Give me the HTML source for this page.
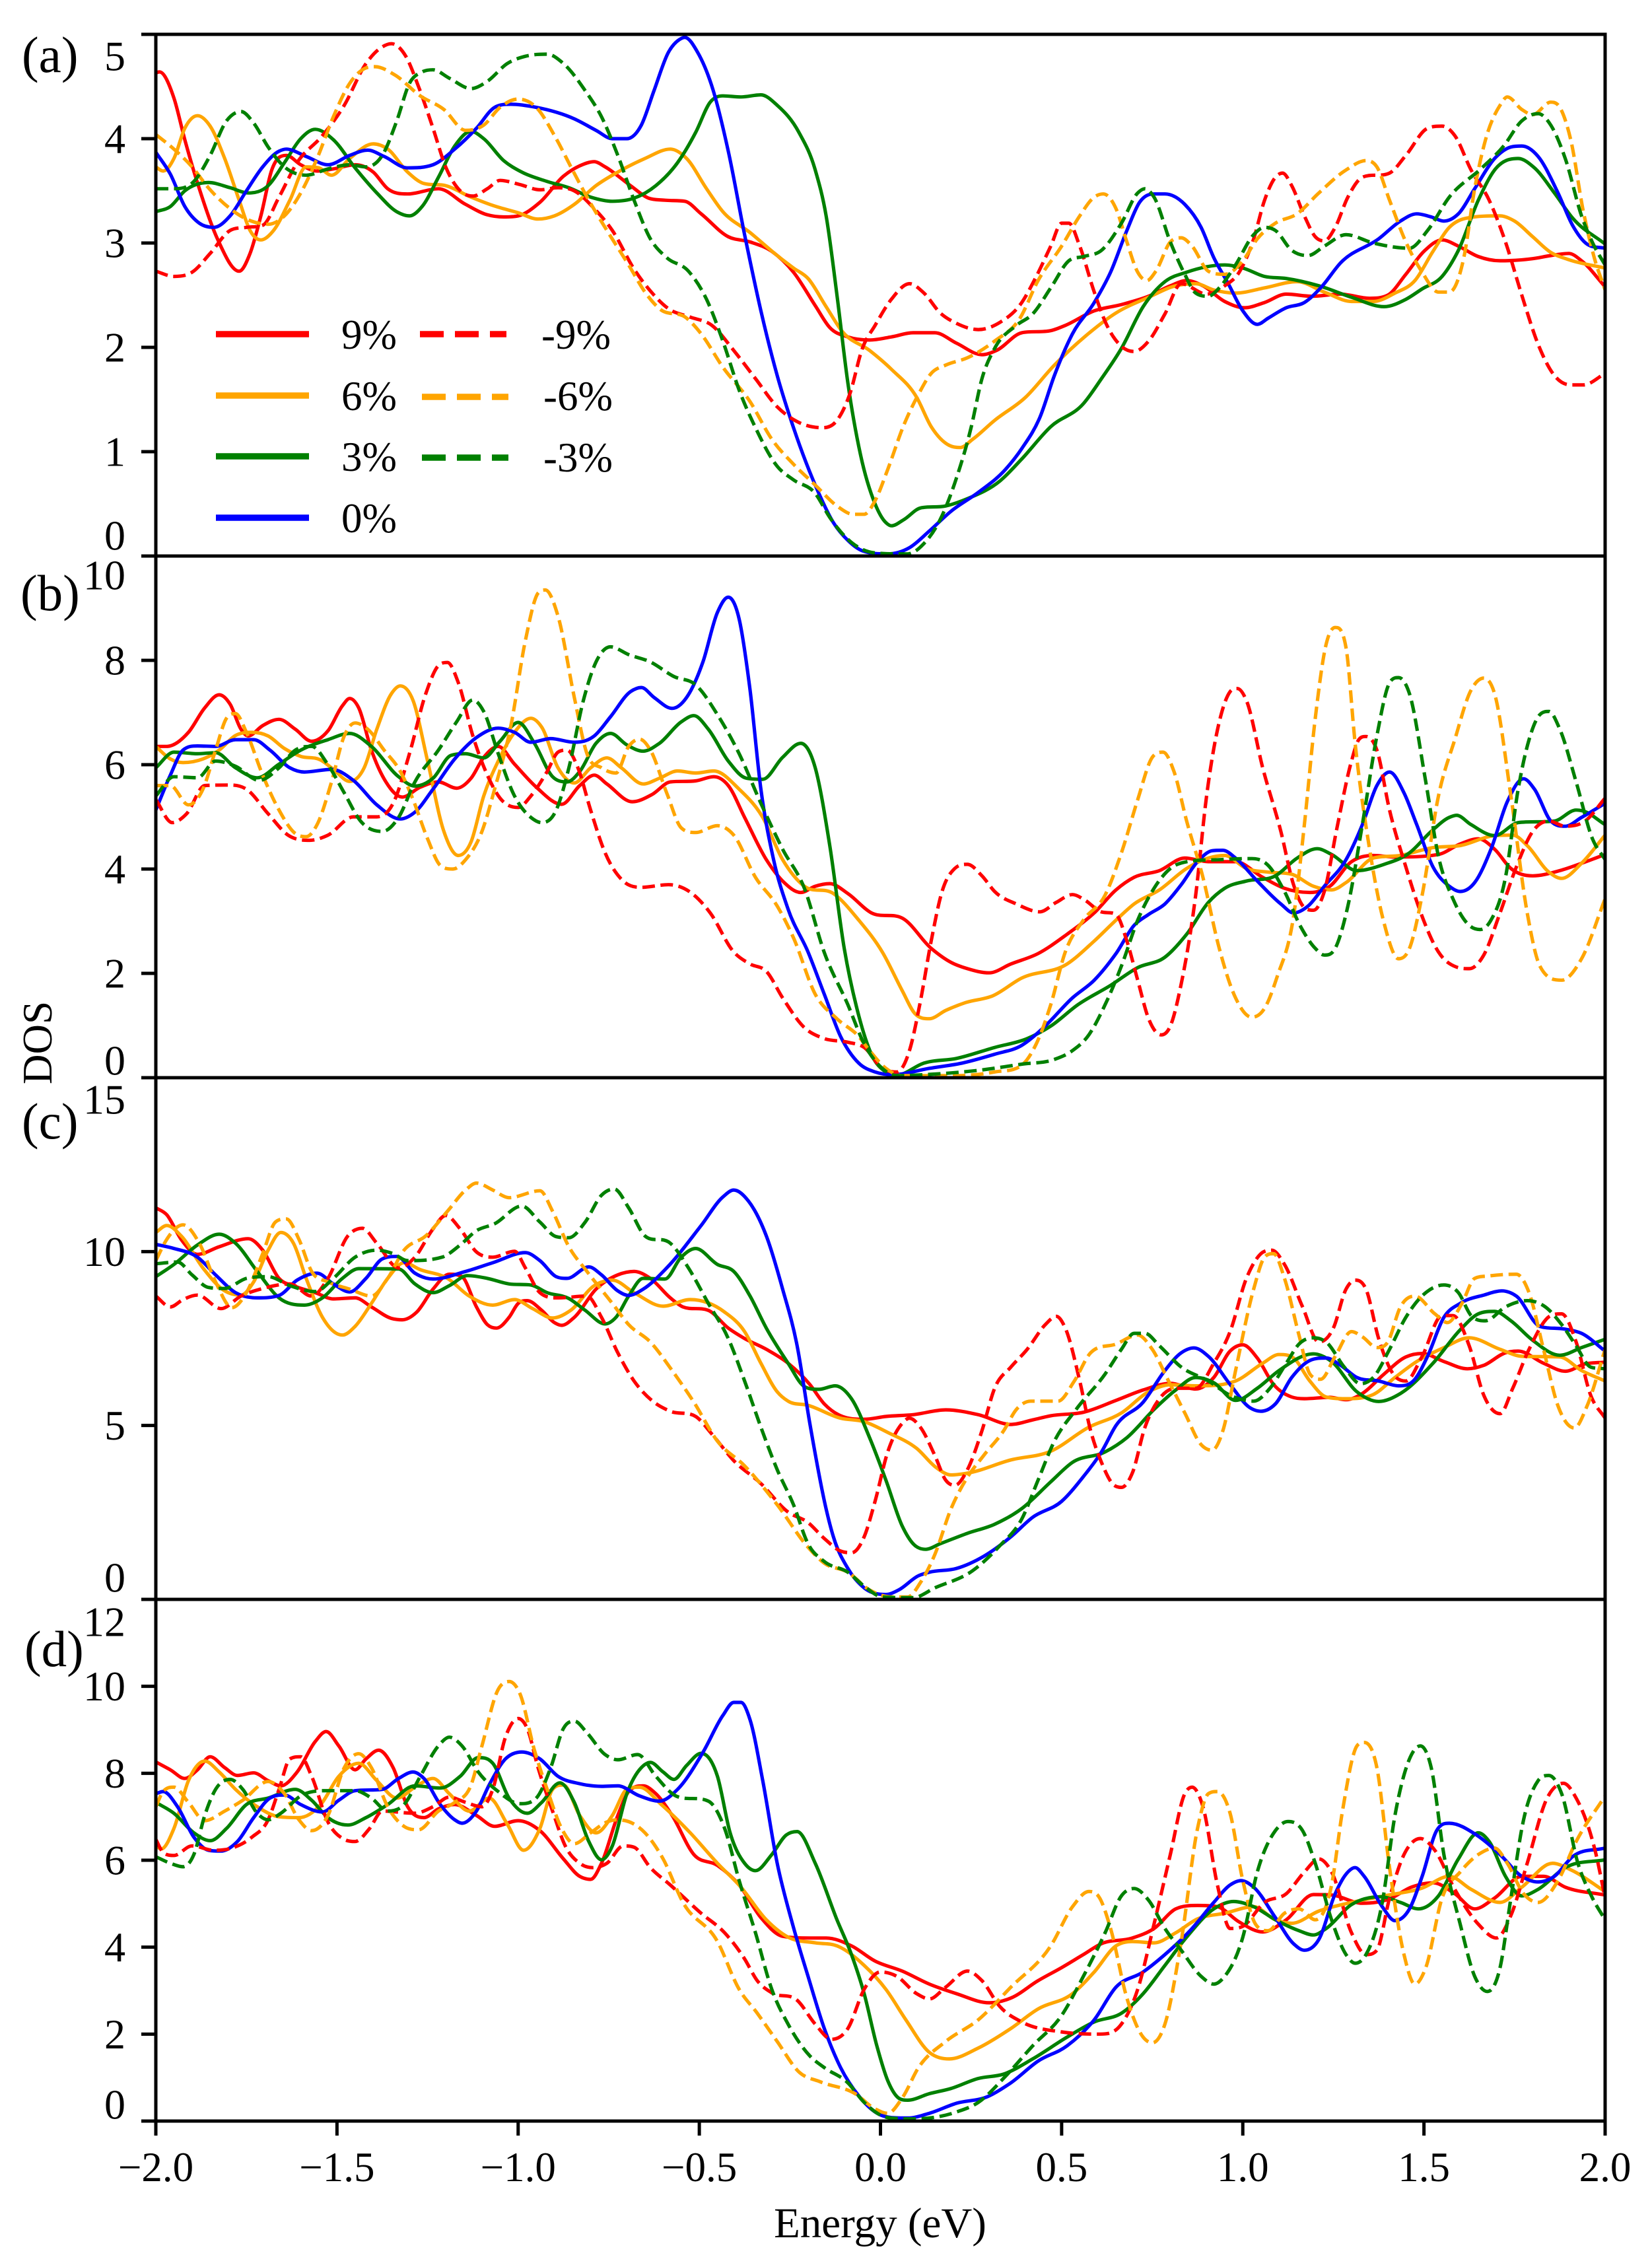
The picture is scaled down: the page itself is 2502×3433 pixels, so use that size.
<!DOCTYPE html>
<html lang="en">
<head>
<meta charset="utf-8">
<title>DOS vs Energy</title>
<style>
html,body{margin:0;padding:0;background:#fff;}
svg{display:block;}
text{font-family:"Liberation Serif",serif;fill:#000;}
</style>
</head>
<body>
<svg id="chart" xmlns="http://www.w3.org/2000/svg" width="2502" height="3433" viewBox="0 0 2502 3433">
<rect x="0" y="0" width="2502" height="3433" fill="#fff"/>
<g id="plot-layer"></g>
<g id="axis-layer"></g>
<text x="33" y="109" font-size="77">(a)</text>
<text x="31" y="924" font-size="77">(b)</text>
<text x="33" y="1724" font-size="77">(c)</text>
<text x="37" y="2523" font-size="77">(d)</text>
<text transform="translate(78,1579) rotate(-90)" text-anchor="middle" font-size="63">DOS</text>
<text x="1333" y="3388" text-anchor="middle" font-size="65">Energy (eV)</text>
<g>
<line x1="327" x2="468" y1="506" y2="506" stroke="#ff0000" stroke-width="9.5"/>
<text x="517" y="528" font-size="63">9%</text>
<line x1="327" x2="468" y1="599" y2="599" stroke="#ffa500" stroke-width="9.5"/>
<text x="517" y="621" font-size="63">6%</text>
<line x1="327" x2="468" y1="691" y2="691" stroke="#008000" stroke-width="9.5"/>
<text x="517" y="713" font-size="63">3%</text>
<line x1="327" x2="468" y1="784" y2="784" stroke="#0000ff" stroke-width="9.5"/>
<text x="517" y="806" font-size="63">0%</text>
<line x1="636" x2="767" y1="506" y2="506" stroke="#ff0000" stroke-width="9.5" stroke-dasharray="36 17"/>
<text x="820" y="528" font-size="63">-9%</text>
<line x1="639" x2="770" y1="601" y2="601" stroke="#ffa500" stroke-width="9.5" stroke-dasharray="36 17"/>
<text x="823" y="621" font-size="63">-6%</text>
<line x1="639" x2="770" y1="693" y2="693" stroke="#008000" stroke-width="9.5" stroke-dasharray="36 17"/>
<text x="823" y="714" font-size="63">-3%</text>
</g>
</svg>
<script>
const xTicks=[-2,-1.5,-1,-0.5,0,0.5,1,1.5,2];
const xTickLabels=["\u22122.0","\u22121.5","\u22121.0","\u22120.5","0.0","0.5","1.0","1.5","2.0"];
const yTicksA=[0,1,2,3,4,5];
const yTicksB=[0,2,4,6,8,10];
const yTicksC=[0,5,10,15];
const yTicksD=[0,2,4,6,8,10,12];

// Panel (a): [energy, DOS]
const a_p9=[[-2,4.63],[-1.99,4.64],[-1.95,4.39],[-1.92,3.99],[-1.88,3.52],[-1.83,3.04],[-1.77,2.73],[-1.74,2.9],[-1.71,3.26],[-1.68,3.7],[-1.64,3.84],[-1.6,3.75],[-1.555,3.69],[-1.51,3.71],[-1.45,3.75],[-1.4,3.68],[-1.36,3.52],[-1.305,3.47],[-1.22,3.52],[-1.145,3.37],[-1.085,3.27],[-1.04,3.25],[-1,3.26],[-0.94,3.39],[-0.875,3.64],[-0.83,3.74],[-0.79,3.78],[-0.76,3.73],[-0.69,3.55],[-0.64,3.43],[-0.595,3.41],[-0.54,3.4],[-0.495,3.28],[-0.42,3.06],[-0.36,3.01],[-0.3,2.92],[-0.24,2.72],[-0.18,2.4],[-0.14,2.19],[-0.09,2.1],[-0.03,2.07],[0.03,2.1],[0.09,2.14],[0.15,2.14],[0.21,2.04],[0.28,1.93],[0.32,1.97],[0.39,2.14],[0.47,2.16],[0.51,2.21],[0.59,2.35],[0.665,2.41],[0.74,2.49],[0.8,2.59],[0.845,2.64],[0.89,2.59],[0.95,2.44],[1.005,2.38],[1.06,2.43],[1.12,2.51],[1.19,2.49],[1.27,2.51],[1.35,2.47],[1.4,2.5],[1.45,2.7],[1.5,2.92],[1.55,3.03],[1.595,2.97],[1.65,2.87],[1.71,2.83],[1.8,2.85],[1.85,2.88],[1.9,2.9],[1.935,2.83],[2,2.58]];
const a_p6=[[-2,3.73],[-1.98,3.69],[-1.95,3.81],[-1.92,4.1],[-1.885,4.22],[-1.85,4.12],[-1.81,3.81],[-1.77,3.41],[-1.74,3.12],[-1.71,3.03],[-1.675,3.12],[-1.63,3.41],[-1.585,3.73],[-1.55,3.72],[-1.515,3.65],[-1.465,3.81],[-1.4,3.95],[-1.36,3.9],[-1.305,3.68],[-1.26,3.57],[-1.2,3.55],[-1.13,3.44],[-1.07,3.36],[-1,3.29],[-0.945,3.23],[-0.9,3.26],[-0.845,3.37],[-0.785,3.55],[-0.725,3.68],[-0.65,3.81],[-0.58,3.9],[-0.535,3.81],[-0.48,3.52],[-0.435,3.3],[-0.36,3.1],[-0.285,2.88],[-0.24,2.76],[-0.2,2.66],[-0.15,2.39],[-0.105,2.15],[-0.03,1.97],[0.03,1.79],[0.1,1.52],[0.14,1.24],[0.19,1.06],[0.22,1.04],[0.255,1.12],[0.315,1.3],[0.4,1.52],[0.48,1.83],[0.57,2.12],[0.65,2.33],[0.74,2.48],[0.815,2.59],[0.87,2.61],[0.92,2.55],[0.98,2.52],[1.06,2.57],[1.15,2.63],[1.225,2.53],[1.3,2.44],[1.36,2.44],[1.42,2.52],[1.475,2.64],[1.525,2.92],[1.57,3.15],[1.62,3.24],[1.71,3.26],[1.75,3.21],[1.8,3.06],[1.85,2.91],[1.9,2.84],[2,2.76]];
const a_p3=[[-2,3.3],[-1.96,3.35],[-1.92,3.5],[-1.855,3.58],[-1.795,3.53],[-1.745,3.48],[-1.69,3.55],[-1.645,3.77],[-1.6,4],[-1.56,4.09],[-1.51,3.99],[-1.45,3.72],[-1.39,3.48],[-1.335,3.3],[-1.3,3.26],[-1.265,3.35],[-1.22,3.63],[-1.175,3.93],[-1.13,4.07],[-1.095,4],[-1.04,3.79],[-0.99,3.68],[-0.92,3.59],[-0.86,3.53],[-0.8,3.44],[-0.74,3.4],[-0.68,3.43],[-0.62,3.55],[-0.56,3.77],[-0.51,4.06],[-0.47,4.35],[-0.435,4.41],[-0.385,4.4],[-0.33,4.42],[-0.285,4.32],[-0.225,4.06],[-0.18,3.7],[-0.15,3.26],[-0.12,2.5],[-0.09,1.66],[-0.055,0.97],[-0.015,0.5],[0.015,0.32],[0.03,0.29],[0.065,0.35],[0.11,0.46],[0.18,0.48],[0.24,0.55],[0.33,0.72],[0.39,0.93],[0.47,1.24],[0.56,1.46],[0.61,1.7],[0.665,1.99],[0.725,2.39],[0.785,2.63],[0.845,2.72],[0.95,2.79],[1,2.76],[1.06,2.68],[1.12,2.66],[1.21,2.59],[1.3,2.48],[1.39,2.39],[1.45,2.46],[1.495,2.56],[1.55,2.68],[1.595,2.93],[1.65,3.41],[1.695,3.7],[1.76,3.81],[1.805,3.72],[1.86,3.48],[1.91,3.24],[2,2.99]];
const a_p0=[[-2,3.87],[-1.96,3.66],[-1.92,3.35],[-1.88,3.19],[-1.84,3.15],[-1.795,3.26],[-1.75,3.5],[-1.705,3.73],[-1.66,3.88],[-1.64,3.9],[-1.585,3.83],[-1.525,3.75],[-1.465,3.84],[-1.415,3.89],[-1.37,3.83],[-1.305,3.72],[-1.235,3.75],[-1.175,3.9],[-1.115,4.1],[-1.065,4.3],[-1.02,4.33],[-0.95,4.3],[-0.845,4.19],[-0.785,4.08],[-0.74,4],[-0.7,4],[-0.66,4.13],[-0.625,4.46],[-0.585,4.83],[-0.555,4.95],[-0.54,4.97],[-0.505,4.83],[-0.465,4.5],[-0.42,3.88],[-0.375,3.08],[-0.33,2.35],[-0.285,1.73],[-0.24,1.23],[-0.17,0.6],[-0.13,0.32],[-0.09,0.15],[-0.05,0.05],[0.02,0.02],[0.08,0.08],[0.135,0.24],[0.195,0.43],[0.27,0.61],[0.345,0.83],[0.39,1.03],[0.44,1.33],[0.48,1.73],[0.53,2.13],[0.59,2.43],[0.635,2.72],[0.68,3.12],[0.715,3.39],[0.755,3.47],[0.785,3.47],[0.84,3.37],[0.885,3.15],[0.92,2.86],[0.96,2.61],[1,2.35],[1.04,2.22],[1.07,2.28],[1.12,2.38],[1.17,2.43],[1.215,2.57],[1.27,2.81],[1.375,3.04],[1.435,3.21],[1.48,3.28],[1.52,3.25],[1.555,3.21],[1.595,3.28],[1.64,3.52],[1.695,3.81],[1.74,3.92],[1.77,3.93],[1.815,3.83],[1.87,3.48],[1.91,3.17],[1.95,2.99],[2,2.95]];
const a_m9=[[-2,2.73],[-1.95,2.68],[-1.9,2.72],[-1.85,2.9],[-1.795,3.12],[-1.75,3.15],[-1.705,3.17],[-1.66,3.44],[-1.61,3.77],[-1.54,4.03],[-1.48,4.32],[-1.42,4.72],[-1.375,4.88],[-1.35,4.91],[-1.31,4.79],[-1.275,4.5],[-1.235,4.1],[-1.2,3.73],[-1.16,3.5],[-1.125,3.45],[-1.085,3.52],[-1.05,3.6],[-0.995,3.56],[-0.94,3.51],[-0.89,3.53],[-0.845,3.5],[-0.79,3.33],[-0.74,3.12],[-0.68,2.75],[-0.63,2.52],[-0.585,2.37],[-0.525,2.29],[-0.465,2.21],[-0.405,1.97],[-0.345,1.7],[-0.285,1.43],[-0.225,1.28],[-0.16,1.23],[-0.12,1.3],[-0.085,1.55],[-0.05,1.99],[-0.015,2.21],[0.03,2.46],[0.08,2.61],[0.12,2.52],[0.165,2.33],[0.21,2.23],[0.27,2.17],[0.33,2.24],[0.39,2.43],[0.43,2.68],[0.47,2.97],[0.5,3.19],[0.52,3.19],[0.55,2.97],[0.59,2.53],[0.625,2.21],[0.665,2.01],[0.7,1.96],[0.74,2.06],[0.785,2.32],[0.83,2.61],[0.9,2.51],[0.95,2.59],[0.99,2.72],[1.03,3.04],[1.06,3.41],[1.09,3.63],[1.11,3.67],[1.135,3.55],[1.17,3.26],[1.2,3.06],[1.225,3.02],[1.255,3.15],[1.29,3.44],[1.33,3.63],[1.405,3.67],[1.45,3.84],[1.51,4.1],[1.55,4.12],[1.585,4.03],[1.63,3.7],[1.68,3.41],[1.725,3.01],[1.77,2.5],[1.815,2.03],[1.86,1.73],[1.905,1.64],[1.94,1.64],[2,1.75]];
const a_m6=[[-2,4.04],[-1.95,3.9],[-1.9,3.73],[-1.855,3.53],[-1.795,3.33],[-1.75,3.23],[-1.69,3.18],[-1.645,3.26],[-1.6,3.48],[-1.555,3.81],[-1.51,4.21],[-1.465,4.53],[-1.425,4.67],[-1.395,4.69],[-1.34,4.61],[-1.27,4.41],[-1.205,4.28],[-1.145,4.08],[-1.095,4.13],[-1.05,4.3],[-1,4.38],[-0.95,4.3],[-0.895,4],[-0.85,3.7],[-0.805,3.41],[-0.755,3.12],[-0.695,2.79],[-0.65,2.53],[-0.61,2.37],[-0.535,2.28],[-0.495,2.13],[-0.435,1.81],[-0.36,1.48],[-0.3,1.12],[-0.24,0.88],[-0.18,0.68],[-0.12,0.48],[-0.075,0.4],[-0.045,0.4],[-0.015,0.53],[0.02,0.83],[0.065,1.26],[0.105,1.55],[0.14,1.75],[0.18,1.83],[0.24,1.9],[0.315,2.06],[0.385,2.28],[0.435,2.64],[0.5,2.97],[0.55,3.26],[0.59,3.44],[0.615,3.47],[0.65,3.33],[0.68,3.01],[0.71,2.72],[0.735,2.64],[0.76,2.73],[0.8,3.01],[0.83,3.05],[0.86,2.97],[0.905,2.73],[0.95,2.7],[1,2.83],[1.04,3.04],[1.09,3.19],[1.15,3.28],[1.21,3.48],[1.285,3.7],[1.34,3.79],[1.37,3.73],[1.405,3.41],[1.45,3.01],[1.495,2.72],[1.54,2.53],[1.57,2.53],[1.61,2.86],[1.64,3.52],[1.67,3.99],[1.71,4.32],[1.73,4.4],[1.77,4.28],[1.8,4.23],[1.85,4.35],[1.875,4.3],[1.905,3.99],[1.94,3.3],[1.97,2.86],[2,2.55]];
const a_m3=[[-2,3.52],[-1.95,3.52],[-1.895,3.59],[-1.85,3.84],[-1.805,4.17],[-1.765,4.26],[-1.73,4.15],[-1.69,3.92],[-1.645,3.73],[-1.585,3.65],[-1.525,3.71],[-1.465,3.75],[-1.42,3.73],[-1.375,3.84],[-1.335,4.17],[-1.3,4.53],[-1.265,4.64],[-1.235,4.66],[-1.19,4.58],[-1.13,4.48],[-1.085,4.55],[-1.03,4.72],[-0.98,4.79],[-0.92,4.81],[-0.875,4.72],[-0.815,4.46],[-0.77,4.21],[-0.725,3.84],[-0.68,3.41],[-0.635,3.04],[-0.59,2.86],[-0.53,2.73],[-0.48,2.46],[-0.435,2.06],[-0.39,1.59],[-0.345,1.23],[-0.285,0.86],[-0.24,0.73],[-0.18,0.6],[-0.14,0.37],[-0.08,0.13],[-0.015,0.03],[0.075,0.02],[0.12,0.12],[0.165,0.35],[0.21,0.75],[0.25,1.23],[0.28,1.7],[0.315,1.99],[0.375,2.21],[0.42,2.32],[0.47,2.57],[0.52,2.83],[0.56,2.87],[0.61,2.93],[0.665,3.19],[0.71,3.48],[0.73,3.52],[0.755,3.44],[0.8,3.01],[0.84,2.7],[0.87,2.52],[0.905,2.49],[0.935,2.57],[0.98,2.79],[1.03,3.08],[1.06,3.15],[1.09,3.12],[1.135,2.93],[1.18,2.88],[1.225,2.97],[1.285,3.08],[1.36,3],[1.46,2.95],[1.51,3.12],[1.57,3.44],[1.66,3.72],[1.72,3.93],[1.77,4.17],[1.815,4.24],[1.85,4.13],[1.89,3.81],[1.935,3.26],[1.97,2.97],[2,2.79]];

// Panel (b)
const b_p9=[[-2,6.35],[-1.97,6.35],[-1.91,6.62],[-1.865,7.09],[-1.825,7.34],[-1.795,7.16],[-1.765,6.68],[-1.745,6.55],[-1.705,6.75],[-1.66,6.87],[-1.615,6.68],[-1.57,6.45],[-1.525,6.65],[-1.485,7.13],[-1.465,7.27],[-1.44,7.09],[-1.405,6.28],[-1.365,5.67],[-1.32,5.38],[-1.27,5.57],[-1.22,5.67],[-1.17,5.55],[-1.13,5.74],[-1.095,6.14],[-1.055,6.35],[-1.01,6.01],[-0.95,5.57],[-0.88,5.24],[-0.83,5.6],[-0.79,5.8],[-0.755,5.63],[-0.685,5.29],[-0.63,5.43],[-0.58,5.67],[-0.51,5.69],[-0.46,5.77],[-0.42,5.6],[-0.375,4.99],[-0.315,4.18],[-0.27,3.77],[-0.22,3.55],[-0.18,3.67],[-0.14,3.72],[-0.09,3.53],[-0.025,3.16],[0.06,3.06],[0.14,2.48],[0.195,2.21],[0.24,2.09],[0.3,2.01],[0.36,2.18],[0.435,2.38],[0.515,2.75],[0.59,3.16],[0.65,3.6],[0.7,3.84],[0.77,3.97],[0.84,4.21],[0.905,4.14],[0.98,4.14],[1.055,3.84],[1.115,3.63],[1.185,3.55],[1.24,3.67],[1.3,4.14],[1.36,4.26],[1.42,4.23],[1.54,4.28],[1.6,4.48],[1.65,4.58],[1.695,4.38],[1.74,4.01],[1.8,3.87],[1.875,3.97],[1.935,4.11],[2,4.28]];
const b_p6=[[-2,6.35],[-1.96,6.11],[-1.925,6.04],[-1.87,6.11],[-1.825,6.28],[-1.78,6.56],[-1.735,6.62],[-1.69,6.55],[-1.645,6.31],[-1.6,6.16],[-1.545,6.09],[-1.51,5.91],[-1.465,5.68],[-1.425,5.94],[-1.39,6.68],[-1.35,7.36],[-1.325,7.51],[-1.29,7.23],[-1.25,6.07],[-1.205,4.72],[-1.165,4.26],[-1.13,4.52],[-1.095,5.4],[-1.055,6.07],[-1.01,6.62],[-0.965,6.89],[-0.935,6.72],[-0.89,5.94],[-0.845,5.65],[-0.8,5.94],[-0.755,6.13],[-0.715,5.94],[-0.655,5.63],[-0.61,5.74],[-0.56,5.88],[-0.51,5.84],[-0.46,5.88],[-0.39,5.53],[-0.325,4.99],[-0.27,4.18],[-0.21,3.67],[-0.13,3.53],[-0.06,3.02],[0.005,2.41],[0.06,1.67],[0.095,1.23],[0.135,1.13],[0.18,1.29],[0.235,1.44],[0.31,1.57],[0.39,1.91],[0.515,2.18],[0.59,2.62],[0.65,3.02],[0.7,3.33],[0.77,3.6],[0.845,4.01],[0.905,4.21],[0.95,4.26],[1.01,4.01],[1.07,3.94],[1.135,3.9],[1.195,3.67],[1.245,3.6],[1.285,3.74],[1.36,4.21],[1.435,4.26],[1.525,4.41],[1.6,4.45],[1.695,4.64],[1.745,4.65],[1.785,4.45],[1.845,3.94],[1.88,3.82],[1.935,4.11],[2,4.65]];
const b_p3=[[-2,5.94],[-1.95,6.24],[-1.885,6.21],[-1.835,6.23],[-1.78,5.94],[-1.72,5.75],[-1.66,6.01],[-1.6,6.28],[-1.525,6.48],[-1.465,6.6],[-1.405,6.35],[-1.33,5.77],[-1.285,5.59],[-1.235,5.74],[-1.185,6.18],[-1.145,6.21],[-1.095,6.13],[-1.05,6.45],[-1,6.81],[-0.955,6.41],[-0.905,5.77],[-0.865,5.67],[-0.83,5.87],[-0.785,6.41],[-0.745,6.6],[-0.7,6.38],[-0.655,6.26],[-0.61,6.41],[-0.55,6.82],[-0.515,6.94],[-0.475,6.68],[-0.42,6.07],[-0.37,5.74],[-0.325,5.72],[-0.27,6.14],[-0.22,6.41],[-0.18,5.94],[-0.14,4.45],[-0.1,2.48],[-0.06,1.19],[-0.025,0.45],[0.015,0.11],[0.045,0.05],[0.12,0.28],[0.21,0.37],[0.315,0.58],[0.405,0.75],[0.47,0.99],[0.545,1.4],[0.635,1.77],[0.71,2.11],[0.785,2.31],[0.845,2.75],[0.905,3.36],[0.95,3.63],[1.01,3.77],[1.09,3.87],[1.15,4.21],[1.205,4.39],[1.245,4.28],[1.315,3.97],[1.39,4.09],[1.46,4.31],[1.52,4.72],[1.57,4.99],[1.59,5.03],[1.63,4.85],[1.695,4.64],[1.76,4.89],[1.86,4.92],[1.92,5.13],[1.94,5.11],[2,4.85]];
const b_p0=[[-2,5.13],[-1.96,5.8],[-1.925,6.28],[-1.885,6.36],[-1.835,6.35],[-1.78,6.48],[-1.73,6.48],[-1.685,6.28],[-1.63,5.94],[-1.59,5.86],[-1.515,5.91],[-1.455,5.7],[-1.39,5.23],[-1.325,4.96],[-1.285,5.09],[-1.235,5.53],[-1.175,6.11],[-1.115,6.52],[-1.055,6.7],[-1.01,6.62],[-0.965,6.43],[-0.91,6.5],[-0.845,6.43],[-0.79,6.55],[-0.745,6.92],[-0.69,7.4],[-0.66,7.48],[-0.625,7.29],[-0.575,7.08],[-0.535,7.29],[-0.49,7.97],[-0.45,8.92],[-0.42,9.21],[-0.39,8.79],[-0.36,7.43],[-0.33,5.53],[-0.295,4.18],[-0.255,3.23],[-0.2,2.41],[-0.155,1.6],[-0.11,0.79],[-0.06,0.28],[-0.015,0.11],[0.035,0.06],[0.135,0.18],[0.225,0.28],[0.315,0.45],[0.39,0.62],[0.45,0.96],[0.53,1.53],[0.59,1.87],[0.65,2.38],[0.7,2.92],[0.74,3.13],[0.785,3.33],[0.83,3.7],[0.875,4.14],[0.915,4.35],[0.945,4.36],[0.98,4.21],[1.04,3.77],[1.105,3.33],[1.14,3.16],[1.18,3.29],[1.225,3.67],[1.285,4.18],[1.33,4.85],[1.37,5.6],[1.405,5.86],[1.445,5.46],[1.48,4.85],[1.525,4.04],[1.57,3.67],[1.6,3.57],[1.64,3.74],[1.685,4.38],[1.73,5.29],[1.775,5.73],[1.805,5.53],[1.85,4.92],[1.89,4.82],[1.935,4.99],[2,5.26]];
const b_m9=[[-2,5.33],[-1.955,4.89],[-1.915,5.06],[-1.865,5.6],[-1.795,5.61],[-1.75,5.53],[-1.69,5.06],[-1.635,4.65],[-1.575,4.55],[-1.525,4.65],[-1.455,5],[-1.39,5],[-1.345,5.26],[-1.3,6.21],[-1.255,7.36],[-1.22,7.9],[-1.195,7.96],[-1.165,7.57],[-1.125,6.55],[-1.085,5.8],[-1.05,5.36],[-1,5.18],[-0.965,5.4],[-0.92,5.87],[-0.89,6.24],[-0.865,6.28],[-0.835,5.94],[-0.8,5.13],[-0.76,4.31],[-0.71,3.77],[-0.66,3.65],[-0.585,3.7],[-0.52,3.53],[-0.47,3.16],[-0.405,2.41],[-0.36,2.18],[-0.315,2.04],[-0.27,1.53],[-0.21,0.96],[-0.155,0.75],[-0.09,0.68],[-0.045,0.58],[0.005,0.18],[0.045,0.11],[0.08,0.52],[0.11,1.46],[0.14,2.62],[0.17,3.57],[0.205,4.01],[0.24,4.09],[0.28,3.87],[0.315,3.57],[0.375,3.33],[0.44,3.18],[0.485,3.36],[0.53,3.51],[0.565,3.4],[0.605,3.19],[0.65,3.13],[0.68,2.62],[0.71,1.87],[0.74,1.13],[0.775,0.82],[0.8,0.99],[0.83,1.8],[0.87,3.5],[0.9,5.4],[0.935,6.82],[0.965,7.4],[0.985,7.46],[1.01,7.23],[1.055,5.94],[1.105,4.72],[1.14,3.7],[1.17,3.26],[1.195,3.21],[1.225,3.57],[1.26,4.79],[1.3,6.07],[1.32,6.48],[1.34,6.54],[1.37,6.28],[1.405,5.13],[1.45,4.04],[1.495,3.09],[1.54,2.41],[1.59,2.12],[1.625,2.09],[1.665,2.35],[1.71,3.16],[1.755,4.04],[1.8,4.72],[1.845,4.92],[1.89,4.82],[1.945,4.92],[2,5.36]];
const b_m6=[[-2,5.6],[-1.96,5.6],[-1.91,5.23],[-1.87,5.53],[-1.835,6.28],[-1.805,6.89],[-1.78,6.98],[-1.75,6.62],[-1.705,5.8],[-1.66,5.13],[-1.615,4.68],[-1.585,4.62],[-1.555,4.85],[-1.515,5.67],[-1.48,6.55],[-1.45,6.8],[-1.415,6.68],[-1.37,6.28],[-1.325,5.87],[-1.29,5.33],[-1.25,4.58],[-1.215,4.07],[-1.18,4],[-1.145,4.18],[-1.1,4.72],[-1.065,5.53],[-1.02,6.75],[-0.98,8.38],[-0.945,9.29],[-0.925,9.35],[-0.89,8.85],[-0.845,7.29],[-0.81,6.21],[-0.77,5.94],[-0.73,5.84],[-0.695,6.35],[-0.665,6.49],[-0.635,6.28],[-0.59,5.46],[-0.55,4.79],[-0.51,4.7],[-0.45,4.83],[-0.405,4.65],[-0.345,3.84],[-0.285,3.29],[-0.24,2.68],[-0.18,1.6],[-0.12,1.13],[-0.06,0.79],[-0.03,0.52],[0.015,0.18],[0.06,0.04],[0.21,0.04],[0.315,0.11],[0.39,0.24],[0.43,0.65],[0.47,1.4],[0.51,2.41],[0.56,3.02],[0.62,3.5],[0.665,4.31],[0.71,5.33],[0.75,6.14],[0.78,6.24],[0.81,5.87],[0.845,4.92],[0.89,3.84],[0.935,2.48],[0.98,1.53],[1.025,1.16],[1.06,1.33],[1.095,1.94],[1.14,3.09],[1.17,4.85],[1.2,6.89],[1.23,8.31],[1.255,8.63],[1.285,8.24],[1.31,6.41],[1.35,4.38],[1.39,2.96],[1.43,2.28],[1.46,2.48],[1.495,3.5],[1.54,5.4],[1.585,6.48],[1.63,7.43],[1.665,7.66],[1.695,7.36],[1.74,5.4],[1.785,3.16],[1.82,2.14],[1.88,1.87],[1.935,2.28],[2,3.43]];
const b_m3=[[-2,5.4],[-1.95,5.77],[-1.885,5.75],[-1.835,6.07],[-1.78,5.97],[-1.715,5.7],[-1.66,5.94],[-1.615,6.28],[-1.57,6.35],[-1.525,6],[-1.48,5.46],[-1.435,4.92],[-1.375,4.72],[-1.33,4.99],[-1.285,5.67],[-1.22,6.28],[-1.17,6.82],[-1.125,7.24],[-1.095,7.02],[-1.055,6.21],[-1.01,5.4],[-0.965,4.99],[-0.935,4.89],[-0.895,5.13],[-0.86,5.94],[-0.82,7.23],[-0.785,7.97],[-0.745,8.26],[-0.695,8.11],[-0.635,7.97],[-0.57,7.69],[-0.51,7.53],[-0.45,6.96],[-0.39,6.21],[-0.33,5.26],[-0.27,4.38],[-0.21,3.63],[-0.155,2.4],[-0.09,1.4],[-0.045,0.65],[0,0.21],[0.045,0.04],[0.15,0.07],[0.27,0.14],[0.39,0.26],[0.48,0.35],[0.53,0.52],[0.575,0.82],[0.62,1.4],[0.665,2.14],[0.71,3.02],[0.755,3.63],[0.8,4.01],[0.845,4.14],[0.935,4.18],[1.025,4.2],[1.07,4.07],[1.115,3.57],[1.16,2.89],[1.2,2.48],[1.225,2.35],[1.255,2.48],[1.29,3.29],[1.33,4.85],[1.37,6.55],[1.405,7.57],[1.43,7.67],[1.46,7.36],[1.505,5.67],[1.54,4.24],[1.58,3.43],[1.625,2.92],[1.655,2.84],[1.685,3.02],[1.725,3.84],[1.76,5.53],[1.79,6.48],[1.82,6.96],[1.845,7.02],[1.875,6.68],[1.92,5.67],[1.965,4.58],[2,4.18]];

// Panel (c)
const c_p9=[[-2,11.26],[-1.97,11.06],[-1.93,10.35],[-1.885,9.92],[-1.825,10.14],[-1.745,10.37],[-1.705,10.04],[-1.66,9.23],[-1.615,9],[-1.56,8.82],[-1.51,8.64],[-1.45,8.67],[-1.405,8.41],[-1.35,8.08],[-1.32,8.04],[-1.28,8.26],[-1.235,8.92],[-1.19,9.35],[-1.155,9.28],[-1.115,8.41],[-1.085,7.9],[-1.06,7.8],[-1.025,8.11],[-1,8.51],[-0.975,8.59],[-0.935,8.31],[-0.9,7.96],[-0.88,7.88],[-0.845,8.11],[-0.785,8.92],[-0.725,9.33],[-0.68,9.43],[-0.635,9.23],[-0.58,8.67],[-0.545,8.41],[-0.475,8.31],[-0.42,7.8],[-0.375,7.5],[-0.315,7.19],[-0.255,6.79],[-0.195,6.18],[-0.155,5.62],[-0.11,5.28],[-0.045,5.18],[0.015,5.26],[0.09,5.31],[0.18,5.45],[0.27,5.31],[0.36,5.03],[0.42,5.16],[0.47,5.28],[0.56,5.38],[0.65,5.72],[0.725,6.02],[0.8,6.21],[0.87,6.05],[0.92,6.38],[0.965,7.14],[1,7.32],[1.04,6.94],[1.085,6.18],[1.135,5.82],[1.17,5.77],[1.24,5.81],[1.285,5.74],[1.33,5.92],[1.39,6.48],[1.45,6.97],[1.495,7.07],[1.555,6.84],[1.62,6.63],[1.665,6.73],[1.725,7.09],[1.76,7.14],[1.83,6.79],[1.89,6.56],[1.945,6.77],[2,6.82]];
const c_p6=[[-2,10.55],[-1.97,10.75],[-1.93,10.45],[-1.87,9.53],[-1.81,8.87],[-1.765,8.75],[-1.73,9.13],[-1.69,10.04],[-1.655,10.55],[-1.62,10.24],[-1.585,9.23],[-1.54,8.11],[-1.485,7.6],[-1.45,7.85],[-1.405,8.51],[-1.36,9.23],[-1.315,9.68],[-1.27,9.48],[-1.195,9.23],[-1.135,8.72],[-1.07,8.46],[-1.01,8.62],[-0.96,8.36],[-0.905,8.09],[-0.855,8.31],[-0.79,9.02],[-0.74,9.18],[-0.68,8.82],[-0.6,8.43],[-0.525,8.62],[-0.43,8.26],[-0.375,7.7],[-0.33,6.79],[-0.285,5.97],[-0.255,5.7],[-0.2,5.58],[-0.11,5.21],[-0.045,5.11],[0.02,4.8],[0.1,4.34],[0.155,3.78],[0.195,3.58],[0.24,3.63],[0.36,4.01],[0.47,4.26],[0.575,4.95],[0.665,5.36],[0.74,5.97],[0.8,6.17],[0.875,6.14],[0.98,6.28],[1.055,6.79],[1.1,7.04],[1.14,6.94],[1.185,6.28],[1.23,5.82],[1.285,5.77],[1.36,5.89],[1.42,6.38],[1.48,6.84],[1.555,7.24],[1.625,7.52],[1.71,7.19],[1.77,6.99],[1.875,6.97],[1.935,6.58],[2,6.28]];
const c_p3=[[-2,9.28],[-1.95,9.63],[-1.885,10.19],[-1.825,10.5],[-1.78,10.24],[-1.72,9.43],[-1.66,8.67],[-1.59,8.46],[-1.54,8.67],[-1.485,9.23],[-1.44,9.51],[-1.33,9.5],[-1.285,9.07],[-1.235,8.82],[-1.19,9.02],[-1.14,9.31],[-1.085,9.23],[-1.025,9.07],[-0.965,9.04],[-0.92,8.82],[-0.86,8.65],[-0.815,8.31],[-0.76,7.92],[-0.73,8.11],[-0.695,8.72],[-0.655,9.23],[-0.595,9.21],[-0.55,9.84],[-0.51,10.09],[-0.45,9.63],[-0.405,9.43],[-0.36,8.72],[-0.315,7.8],[-0.255,6.79],[-0.21,6.12],[-0.17,6.04],[-0.125,6.14],[-0.08,5.77],[-0.03,4.65],[0.015,3.43],[0.06,2.11],[0.09,1.6],[0.125,1.44],[0.165,1.6],[0.24,1.9],[0.315,2.16],[0.39,2.61],[0.47,3.38],[0.53,3.94],[0.62,4.24],[0.68,4.65],[0.755,5.46],[0.815,6.02],[0.87,6.38],[0.92,6.23],[0.98,5.72],[1.04,6.07],[1.1,6.58],[1.195,7.06],[1.245,6.84],[1.315,5.97],[1.375,5.69],[1.435,5.92],[1.525,6.79],[1.6,7.75],[1.65,8.21],[1.695,8.28],[1.74,8.01],[1.8,7.45],[1.875,7.02],[1.935,7.24],[2,7.48]];
const c_p0=[[-2,10.21],[-1.95,10.09],[-1.885,9.84],[-1.835,9.33],[-1.78,8.82],[-1.72,8.67],[-1.66,8.74],[-1.61,9.18],[-1.555,9.38],[-1.51,9.07],[-1.465,8.84],[-1.42,9.23],[-1.375,9.79],[-1.335,9.86],[-1.285,9.38],[-1.235,9.21],[-1.145,9.43],[-1.07,9.68],[-0.98,9.97],[-0.94,9.74],[-0.895,9.28],[-0.865,9.23],[-0.805,9.56],[-0.77,9.33],[-0.725,8.87],[-0.695,8.74],[-0.655,8.92],[-0.59,9.53],[-0.495,10.75],[-0.435,11.57],[-0.405,11.77],[-0.365,11.46],[-0.315,10.45],[-0.27,8.92],[-0.23,7.29],[-0.195,5.06],[-0.15,2.6],[-0.13,1.8],[-0.09,0.89],[-0.045,0.33],[0.015,0.14],[0.05,0.27],[0.105,0.68],[0.135,0.78],[0.21,0.89],[0.285,1.24],[0.36,1.8],[0.42,2.36],[0.5,2.82],[0.56,3.53],[0.61,4.24],[0.65,5],[0.725,5.67],[0.785,6.58],[0.83,7.09],[0.865,7.23],[0.905,6.99],[0.965,6.18],[1.02,5.51],[1.05,5.41],[1.09,5.62],[1.135,6.38],[1.185,6.87],[1.23,6.94],[1.27,6.73],[1.315,6.38],[1.375,6.28],[1.43,6.14],[1.475,6.33],[1.51,6.99],[1.555,8.11],[1.6,8.51],[1.665,8.75],[1.715,8.87],[1.755,8.72],[1.82,7.85],[1.89,7.77],[1.935,7.65],[2,7.14]];
const c_m9=[[-2,8.72],[-1.96,8.41],[-1.925,8.62],[-1.885,8.75],[-1.82,8.36],[-1.765,8.72],[-1.705,8.94],[-1.63,9.07],[-1.57,8.72],[-1.525,9.23],[-1.47,10.45],[-1.43,10.67],[-1.39,10.24],[-1.33,9.53],[-1.285,9.84],[-1.235,10.65],[-1.2,11.04],[-1.16,10.65],[-1.115,9.99],[-1.07,9.84],[-1.01,10.01],[-0.98,9.53],[-0.94,8.82],[-0.89,8.67],[-0.81,8.72],[-0.77,8.11],[-0.725,7.09],[-0.68,6.28],[-0.625,5.67],[-0.58,5.41],[-0.51,5.26],[-0.465,4.75],[-0.405,3.99],[-0.33,3.33],[-0.255,2.51],[-0.2,2.21],[-0.155,1.75],[-0.11,1.39],[-0.08,1.34],[-0.045,1.8],[-0.015,2.82],[0.02,4.24],[0.06,5.06],[0.08,5.21],[0.11,4.95],[0.15,4.14],[0.18,3.43],[0.205,3.28],[0.24,3.73],[0.28,4.85],[0.315,6.07],[0.36,6.68],[0.405,7.19],[0.455,7.9],[0.485,8.14],[0.51,7.8],[0.55,6.28],[0.58,4.85],[0.61,3.94],[0.64,3.33],[0.665,3.22],[0.695,3.63],[0.73,4.95],[0.77,5.77],[0.815,6.07],[0.87,6.07],[0.92,6.79],[0.965,7.7],[1.01,9.23],[1.05,9.94],[1.08,10.04],[1.115,9.63],[1.165,8.41],[1.21,7.4],[1.25,7.8],[1.285,8.92],[1.31,9.18],[1.34,8.92],[1.375,7.5],[1.415,6.48],[1.45,6.28],[1.495,6.99],[1.55,8.16],[1.58,8.16],[1.625,7.29],[1.665,5.87],[1.71,5.34],[1.745,6.07],[1.79,7.19],[1.85,8.16],[1.88,8.21],[1.92,7.4],[1.96,5.87],[2,5.21]];
const c_m6=[[-2,9.74],[-1.97,10.35],[-1.925,10.77],[-1.88,10.24],[-1.835,9.13],[-1.79,8.39],[-1.75,8.82],[-1.705,9.94],[-1.67,10.85],[-1.64,10.94],[-1.605,10.35],[-1.57,9.43],[-1.525,9.13],[-1.465,8.92],[-1.405,8.72],[-1.36,9.23],[-1.315,10.04],[-1.255,10.45],[-1.195,11.16],[-1.145,11.77],[-1.115,11.97],[-1.07,11.77],[-1.025,11.55],[-0.94,11.75],[-0.905,11.16],[-0.86,10.14],[-0.81,9.43],[-0.74,8.51],[-0.695,7.9],[-0.635,7.4],[-0.575,6.58],[-0.515,5.67],[-0.45,4.55],[-0.375,3.84],[-0.285,2.72],[-0.2,1.5],[-0.155,1.04],[-0.09,0.78],[-0.03,0.27],[0.03,0.07],[0.075,0.07],[0.11,0.48],[0.15,1.29],[0.195,2.61],[0.235,3.43],[0.285,4.14],[0.34,4.85],[0.375,5.46],[0.415,5.7],[0.49,5.7],[0.535,6.28],[0.58,7.09],[0.65,7.34],[0.71,7.6],[0.75,7.19],[0.795,6.28],[0.84,5.36],[0.885,4.45],[0.915,4.29],[0.945,4.85],[0.98,6.58],[1.03,8.92],[1.06,9.84],[1.085,9.94],[1.115,9.23],[1.155,7.6],[1.185,6.48],[1.215,6.33],[1.255,6.99],[1.3,7.7],[1.33,7.55],[1.37,7.24],[1.4,7.4],[1.435,8.41],[1.475,8.72],[1.53,8.21],[1.565,7.96],[1.605,8.51],[1.64,9.23],[1.68,9.3],[1.755,9.35],[1.79,8.82],[1.83,7.19],[1.87,5.56],[1.915,4.93],[1.95,5.56],[2,7.19]];
const c_m3=[[-2,9.65],[-1.94,9.7],[-1.9,9.33],[-1.855,8.97],[-1.81,8.94],[-1.75,9.23],[-1.69,9.28],[-1.63,9.02],[-1.56,8.85],[-1.51,9.23],[-1.45,9.84],[-1.39,10.04],[-1.345,9.94],[-1.305,9.74],[-1.21,9.84],[-1.16,10.19],[-1.115,10.6],[-1.065,10.8],[-0.99,11.31],[-0.94,10.85],[-0.895,10.43],[-0.86,10.4],[-0.815,10.85],[-0.77,11.62],[-0.735,11.8],[-0.695,11.26],[-0.65,10.45],[-0.58,10.24],[-0.53,9.53],[-0.475,8.51],[-0.42,7.5],[-0.375,6.28],[-0.33,4.95],[-0.285,3.73],[-0.24,2.72],[-0.2,1.6],[-0.155,1.09],[-0.09,0.78],[-0.045,0.38],[0.005,0.07],[0.09,0.05],[0.15,0.33],[0.255,0.83],[0.33,1.55],[0.39,2.31],[0.435,3.43],[0.48,4.55],[0.54,5.46],[0.62,6.48],[0.665,7.19],[0.7,7.65],[0.73,7.65],[0.77,7.29],[0.83,6.68],[0.905,6.28],[0.965,5.87],[1.03,5.7],[1.075,6.07],[1.12,6.79],[1.155,7.34],[1.195,7.52],[1.23,7.4],[1.28,6.68],[1.325,6.2],[1.36,6.38],[1.405,7.19],[1.45,8.11],[1.505,8.82],[1.555,9.04],[1.595,8.82],[1.63,8.16],[1.67,8.01],[1.725,8.41],[1.785,8.59],[1.835,8.41],[1.88,7.9],[1.92,7.29],[1.96,6.68],[2,6.63]];

// Panel (d)
const d_p9=[[-2,8.26],[-1.96,8.08],[-1.92,7.88],[-1.885,8.08],[-1.85,8.38],[-1.81,8.13],[-1.775,7.95],[-1.73,8.01],[-1.69,7.83],[-1.655,7.71],[-1.61,8.03],[-1.56,8.73],[-1.53,8.96],[-1.495,8.63],[-1.45,8.08],[-1.42,8.33],[-1.385,8.53],[-1.345,8.13],[-1.305,7.23],[-1.26,6.98],[-1.22,7.18],[-1.175,7.28],[-1.115,7.03],[-1.065,6.78],[-1,6.91],[-0.94,6.68],[-0.875,6.03],[-0.83,5.63],[-0.8,5.56],[-0.77,5.93],[-0.725,7.03],[-0.695,7.58],[-0.655,7.71],[-0.62,7.53],[-0.575,7.03],[-0.515,6.13],[-0.45,5.88],[-0.39,5.43],[-0.33,4.68],[-0.27,4.25],[-0.195,4.21],[-0.15,4.21],[-0.08,4.03],[-0.015,3.68],[0.06,3.45],[0.135,3.15],[0.21,2.93],[0.3,2.72],[0.36,2.83],[0.435,3.23],[0.5,3.53],[0.56,3.83],[0.61,4.08],[0.695,4.21],[0.755,4.43],[0.815,4.88],[0.875,4.96],[0.93,4.93],[0.99,4.58],[1.055,4.35],[1.12,4.63],[1.195,5.21],[1.245,5.2],[1.33,5.01],[1.405,5.11],[1.465,5.38],[1.525,5.48],[1.585,5.23],[1.64,4.88],[1.695,5.13],[1.77,5.63],[1.83,5.63],[1.89,5.38],[2,5.2]];
const d_p6=[[-2,6.33],[-1.985,6.26],[-1.95,6.73],[-1.91,7.83],[-1.865,8.28],[-1.825,8.03],[-1.78,7.63],[-1.72,7.23],[-1.66,7],[-1.605,6.98],[-1.545,7.28],[-1.495,7.93],[-1.44,8.23],[-1.39,7.83],[-1.335,7.43],[-1.28,7.71],[-1.235,7.88],[-1.19,7.53],[-1.135,7.13],[-1.08,7.43],[-1.03,6.83],[-0.985,6.23],[-0.94,6.73],[-0.905,7.63],[-0.875,7.73],[-0.83,7.03],[-0.785,6.63],[-0.74,7.03],[-0.7,7.63],[-0.665,7.68],[-0.605,7.28],[-0.525,6.63],[-0.45,5.93],[-0.385,5.38],[-0.315,4.63],[-0.255,4.23],[-0.18,4.1],[-0.12,4.03],[-0.045,3.58],[0.015,3.03],[0.07,2.33],[0.135,1.58],[0.19,1.43],[0.27,1.68],[0.36,2.13],[0.435,2.58],[0.53,2.93],[0.59,3.43],[0.65,4.03],[0.695,4.13],[0.755,4.1],[0.815,4.33],[0.875,4.65],[0.95,4.78],[1.03,4.93],[1.09,4.63],[1.135,4.55],[1.21,4.83],[1.3,5.03],[1.39,5.18],[1.495,5.36],[1.57,5.63],[1.63,5.33],[1.71,5.03],[1.77,5.38],[1.855,5.93],[1.905,5.78],[2,5.28]];
const d_p3=[[-2,7.33],[-1.95,7.08],[-1.895,6.63],[-1.85,6.45],[-1.805,6.73],[-1.75,7.28],[-1.69,7.43],[-1.615,7.63],[-1.57,7.38],[-1.525,6.98],[-1.47,6.81],[-1.42,6.98],[-1.36,7.28],[-1.285,7.71],[-1.215,7.66],[-1.16,7.93],[-1.11,8.36],[-1.07,8.23],[-1.025,7.43],[-0.975,7.08],[-0.935,7.33],[-0.885,7.78],[-0.845,7.33],[-0.805,6.43],[-0.77,6.01],[-0.74,6.33],[-0.7,7.53],[-0.66,8.13],[-0.635,8.25],[-0.6,8.03],[-0.57,7.86],[-0.535,8.18],[-0.495,8.46],[-0.45,7.93],[-0.415,6.63],[-0.375,5.93],[-0.345,5.76],[-0.3,6.13],[-0.26,6.58],[-0.23,6.66],[-0.18,5.93],[-0.12,4.63],[-0.08,3.83],[-0.045,2.93],[-0.01,1.73],[0.02,0.93],[0.05,0.53],[0.075,0.48],[0.135,0.63],[0.195,0.75],[0.27,0.98],[0.34,1.08],[0.42,1.43],[0.515,1.93],[0.59,2.28],[0.665,2.48],[0.725,2.93],[0.785,3.58],[0.845,4.23],[0.92,4.88],[0.975,5.05],[1.03,4.93],[1.09,4.63],[1.155,4.38],[1.195,4.28],[1.23,4.43],[1.3,4.98],[1.38,5.16],[1.435,5.03],[1.485,4.88],[1.54,5.18],[1.595,6.03],[1.65,6.63],[1.68,6.43],[1.725,5.63],[1.77,5.18],[1.815,5.33],[1.89,5.83],[2,6.01]];
const d_p0=[[-2,7.53],[-1.98,7.58],[-1.94,7.23],[-1.895,6.53],[-1.855,6.23],[-1.82,6.21],[-1.775,6.43],[-1.73,6.98],[-1.685,7.43],[-1.645,7.5],[-1.6,7.28],[-1.54,7.11],[-1.495,7.38],[-1.45,7.6],[-1.375,7.63],[-1.33,7.88],[-1.29,8.03],[-1.26,7.88],[-1.215,7.28],[-1.175,6.93],[-1.155,6.85],[-1.115,7.13],[-1.08,7.73],[-1.035,8.33],[-0.99,8.49],[-0.94,8.33],[-0.89,7.93],[-0.83,7.76],[-0.77,7.7],[-0.725,7.71],[-0.665,7.48],[-0.61,7.36],[-0.56,7.63],[-0.49,8.48],[-0.435,9.33],[-0.405,9.63],[-0.385,9.63],[-0.36,9.23],[-0.325,7.83],[-0.285,5.93],[-0.245,4.6],[-0.2,3.33],[-0.155,2.13],[-0.11,1.23],[-0.06,0.58],[-0.015,0.21],[0.03,0.08],[0.075,0.07],[0.135,0.18],[0.21,0.41],[0.295,0.56],[0.36,0.88],[0.435,1.38],[0.515,1.73],[0.59,2.33],[0.65,3.08],[0.725,3.43],[0.785,3.83],[0.86,4.43],[0.92,5.03],[0.965,5.43],[0.995,5.53],[1.03,5.38],[1.09,4.68],[1.14,4.08],[1.17,3.93],[1.21,4.18],[1.255,5.23],[1.285,5.68],[1.31,5.83],[1.335,5.63],[1.385,4.93],[1.42,4.61],[1.46,4.88],[1.495,5.63],[1.535,6.68],[1.57,6.85],[1.645,6.58],[1.71,6.13],[1.77,5.63],[1.815,5.5],[1.86,5.63],[1.91,6.08],[2,6.28]];
const d_m9=[[-2,6.48],[-1.98,6.18],[-1.95,6.11],[-1.9,6.33],[-1.84,6.23],[-1.79,6.28],[-1.735,6.53],[-1.69,6.93],[-1.66,7.63],[-1.63,8.33],[-1.6,8.38],[-1.57,7.93],[-1.525,6.88],[-1.48,6.48],[-1.45,6.43],[-1.41,6.73],[-1.375,7.13],[-1.285,7.08],[-1.235,7.23],[-1.19,7.45],[-1.145,7.33],[-1.1,7.23],[-1.07,7.63],[-1.035,8.83],[-1,9.26],[-0.975,9.03],[-0.945,8.13],[-0.905,7.13],[-0.87,6.33],[-0.83,5.93],[-0.795,5.83],[-0.755,5.93],[-0.71,6.33],[-0.68,6.3],[-0.635,5.83],[-0.58,5.43],[-0.495,4.78],[-0.43,4.33],[-0.375,3.73],[-0.34,3.23],[-0.3,2.95],[-0.23,2.78],[-0.18,2.23],[-0.135,1.88],[-0.09,2.13],[-0.045,3.03],[0,3.43],[0.045,3.33],[0.1,2.93],[0.135,2.81],[0.18,3.08],[0.24,3.45],[0.28,3.23],[0.33,2.63],[0.39,2.28],[0.5,2.05],[0.605,2],[0.665,2.23],[0.71,3.03],[0.755,4.53],[0.8,6.13],[0.84,7.53],[0.86,7.68],[0.89,7.23],[0.93,5.43],[0.965,4.43],[1,4.48],[1.06,5.03],[1.12,5.23],[1.17,5.73],[1.21,6.03],[1.245,5.73],[1.3,4.33],[1.34,3.83],[1.37,3.93],[1.405,5.13],[1.445,6.13],[1.49,6.5],[1.53,6.23],[1.585,5.33],[1.65,4.53],[1.7,4.21],[1.74,4.73],[1.785,5.93],[1.84,7.43],[1.885,7.77],[1.92,7.43],[1.975,6.13],[2,5.13]];
const d_m6=[[-2,7.23],[-1.98,7.58],[-1.95,7.68],[-1.91,7.33],[-1.865,6.91],[-1.81,7.13],[-1.76,7.38],[-1.69,7.81],[-1.645,7.53],[-1.605,6.93],[-1.57,6.68],[-1.525,7.03],[-1.48,8.13],[-1.44,8.45],[-1.405,8.13],[-1.36,7.23],[-1.315,6.78],[-1.275,6.7],[-1.22,7.13],[-1.175,7.33],[-1.13,7.73],[-1.1,8.63],[-1.055,9.93],[-1.025,10.11],[-0.995,9.83],[-0.955,8.53],[-0.92,7.63],[-0.88,6.73],[-0.845,6.38],[-0.8,6.63],[-0.755,6.88],[-0.725,6.93],[-0.65,6.63],[-0.6,6.03],[-0.545,5.03],[-0.45,4.13],[-0.39,3.03],[-0.34,2.48],[-0.285,1.83],[-0.225,1.13],[-0.165,0.9],[-0.07,0.63],[-0.015,0.28],[0.02,0.18],[0.06,0.53],[0.105,1.23],[0.18,1.83],[0.27,2.33],[0.36,3.08],[0.47,4.03],[0.53,4.93],[0.575,5.28],[0.605,5.13],[0.635,4.43],[0.68,2.83],[0.725,1.93],[0.75,1.8],[0.785,2.23],[0.83,4.13],[0.875,6.73],[0.905,7.53],[0.93,7.58],[0.965,7.08],[1,5.53],[1.035,4.53],[1.07,4.38],[1.115,4.78],[1.155,4.88],[1.2,4.63],[1.245,5.43],[1.275,7.13],[1.315,8.63],[1.335,8.71],[1.37,8.13],[1.405,5.83],[1.445,3.83],[1.475,3.15],[1.505,3.53],[1.55,5.13],[1.6,5.73],[1.65,6.13],[1.695,6.28],[1.73,5.93],[1.775,5.23],[1.815,5.03],[1.87,5.53],[1.92,6.43],[2,7.48]];
const d_m3=[[-2,6.08],[-1.96,5.93],[-1.925,5.85],[-1.895,6.13],[-1.865,7.03],[-1.835,7.63],[-1.795,7.86],[-1.76,7.63],[-1.72,7.08],[-1.69,6.93],[-1.655,7.08],[-1.6,7.48],[-1.525,7.6],[-1.45,7.6],[-1.405,7.43],[-1.36,7.13],[-1.315,7.28],[-1.27,7.93],[-1.22,8.63],[-1.19,8.83],[-1.155,8.63],[-1.11,8.03],[-1.055,7.58],[-0.995,7.3],[-0.95,7.43],[-0.91,8.13],[-0.875,9.03],[-0.845,9.2],[-0.81,8.93],[-0.76,8.43],[-0.725,8.31],[-0.67,8.43],[-0.62,7.93],[-0.565,7.48],[-0.475,7.36],[-0.43,6.73],[-0.39,5.53],[-0.345,4.33],[-0.3,3.03],[-0.255,2.23],[-0.195,1.5],[-0.155,1.23],[-0.09,0.88],[-0.045,0.43],[0.02,0.08],[0.09,0.05],[0.21,0.21],[0.27,0.43],[0.345,1.03],[0.42,1.73],[0.5,2.43],[0.56,3.33],[0.62,4.33],[0.665,5.18],[0.7,5.35],[0.74,5.08],[0.785,4.43],[0.83,3.93],[0.885,3.33],[0.92,3.15],[0.95,3.33],[1,4.23],[1.04,5.73],[1.09,6.68],[1.125,6.89],[1.165,6.68],[1.2,5.93],[1.245,4.63],[1.285,3.83],[1.31,3.63],[1.34,3.83],[1.385,5.03],[1.42,7.03],[1.46,8.33],[1.49,8.63],[1.52,8.13],[1.555,6.13],[1.6,4.53],[1.64,3.33],[1.675,2.98],[1.71,3.53],[1.74,5.13],[1.775,6.93],[1.815,7.83],[1.845,7.95],[1.88,7.53],[1.925,5.93],[1.965,5.13],[2,4.63]];

const NS='http://www.w3.org/2000/svg';
const plotLayer=document.getElementById('plot-layer');
const axisLayer=document.getElementById('axis-layer');
const chart=document.getElementById('chart');
const X_LEFT=236, X_RIGHT=2431;
const xScale=e=>X_LEFT+(e+2)/4*(X_RIGHT-X_LEFT);

const seriesStyle=[
  {tag:'9',color:'#ff0000',dash:null},
  {tag:'6',color:'#ffa500',dash:null},
  {tag:'3',color:'#008000',dash:null},
  {tag:'0',color:'#0000ff',dash:null},
  {tag:'minus-9',color:'#ff0000',dash:'19 8.5'},
  {tag:'minus-6',color:'#ffa500',dash:'19 8.5'},
  {tag:'minus-3',color:'#008000',dash:'19 8.5'}
];

const panels=[
  {key:'a',top:52,bottom:842,ymax:5,ticks:yTicksA,series:[a_p9,a_p6,a_p3,a_p0,a_m9,a_m6,a_m3],topShift:33,botShift:-31},
  {key:'b',top:842,bottom:1632,ymax:10,ticks:yTicksB,series:[b_p9,b_p6,b_p3,b_p0,b_m9,b_m6,b_m3],topShift:29,botShift:-26},
  {key:'c',top:1632,bottom:2422,ymax:15,ticks:yTicksC,series:[c_p9,c_p6,c_p3,c_p0,c_m9,c_m6,c_m3],topShift:33,botShift:-33},
  {key:'d',top:2422,bottom:3212,ymax:12,ticks:yTicksD,series:[d_p9,d_p6,d_p3,d_p0,d_m9,d_m6,d_m3],topShift:34,botShift:-25}
];

function tangents(xs,ys){
  const n=xs.length,m=new Array(n).fill(0),h=[],d=[];
  for(let i=0;i<n-1;i++){h.push(xs[i+1]-xs[i]);d.push((ys[i+1]-ys[i])/h[i]);}
  m[0]=d[0];m[n-1]=d[n-2];
  for(let i=1;i<n-1;i++){
    if(d[i-1]*d[i]<=0){m[i]=0;continue;}
    const t=(h[i]*d[i-1]+h[i-1]*d[i])/(h[i-1]+h[i]);
    const lim=3*Math.min(Math.abs(d[i-1]),Math.abs(d[i]));
    m[i]=Math.sign(t)*Math.min(Math.abs(t),lim);
  }
  return m;
}
function curvePath(points,yScale){
  const xs=points.map(p=>p[0]),ys=points.map(p=>p[1]),m=tangents(xs,ys);
  let s='M'+xScale(xs[0]).toFixed(1)+' '+yScale(ys[0]).toFixed(1);
  for(let i=0;i<xs.length-1;i++){
    const h=xs[i+1]-xs[i];
    const c1x=xScale(xs[i]+h/3),c1y=yScale(ys[i]+m[i]*h/3);
    const c2x=xScale(xs[i+1]-h/3),c2y=yScale(ys[i+1]-m[i+1]*h/3);
    s+='C'+c1x.toFixed(1)+' '+c1y.toFixed(1)+' '+c2x.toFixed(1)+' '+c2y.toFixed(1)+' '+xScale(xs[i+1]).toFixed(1)+' '+yScale(ys[i+1]).toFixed(1);
  }
  return s;
}

const defs=document.createElementNS(NS,'defs');
chart.insertBefore(defs,chart.firstChild);

panels.forEach(function(panel){
  const yScale=v=>panel.bottom-v/panel.ymax*(panel.bottom-panel.top);
  const clip=document.createElementNS(NS,'clipPath');
  clip.setAttribute('id','clip-'+panel.key);
  const clipRect=document.createElementNS(NS,'rect');
  clipRect.setAttribute('x',X_LEFT);
  clipRect.setAttribute('y',panel.top);
  clipRect.setAttribute('width',X_RIGHT-X_LEFT);
  clipRect.setAttribute('height',panel.bottom-panel.top);
  clip.appendChild(clipRect);
  defs.appendChild(clip);

  const group=document.createElementNS(NS,'g');
  group.setAttribute('clip-path','url(#clip-'+panel.key+')');
  
  
  plotLayer.appendChild(group);

  panel.series.forEach(function(points,i){
    const style=seriesStyle[i];
    const path=document.createElementNS(NS,'path');
    path.setAttribute('d',curvePath(points,yScale));
    path.setAttribute('fill','none');
    path.setAttribute('stroke',style.color);
    path.setAttribute('stroke-width','5.2');
    if(style.dash){path.setAttribute('stroke-dasharray',style.dash);}
    
    
    group.appendChild(path);
  });

  const frame=document.createElementNS(NS,'rect');
  frame.setAttribute('x',X_LEFT);
  frame.setAttribute('y',panel.top);
  frame.setAttribute('width',X_RIGHT-X_LEFT);
  frame.setAttribute('height',panel.bottom-panel.top);
  frame.setAttribute('fill','none');
  frame.setAttribute('stroke','#000');
  frame.setAttribute('stroke-width','5');
  
  
  axisLayer.appendChild(frame);

  panel.ticks.forEach(function(v,idx){
    const y=yScale(v);
    const tick=document.createElementNS(NS,'line');
    tick.setAttribute('x1',214);
    tick.setAttribute('x2',X_LEFT);
    tick.setAttribute('y1',y);
    tick.setAttribute('y2',y);
    tick.setAttribute('stroke','#000');
    tick.setAttribute('stroke-width','5');
    
    
    axisLayer.appendChild(tick);
    let shift=0;
    if(idx===0){shift=panel.botShift;}
    if(idx===panel.ticks.length-1){shift=panel.topShift;}
    const label=document.createElementNS(NS,'text');
    label.setAttribute('x',190);
    label.setAttribute('y',y+shift+21.5);
    label.setAttribute('text-anchor','end');
    label.setAttribute('font-size','64');
    
    
    label.textContent=String(v);
    axisLayer.appendChild(label);
  });
});

xTicks.forEach(function(e,i){
  const x=xScale(e);
  const tick=document.createElementNS(NS,'line');
  tick.setAttribute('x1',x);
  tick.setAttribute('x2',x);
  tick.setAttribute('y1',3212);
  tick.setAttribute('y2',3234);
  tick.setAttribute('stroke','#000');
  tick.setAttribute('stroke-width','5');
  
  
  axisLayer.appendChild(tick);
  const label=document.createElementNS(NS,'text');
  label.setAttribute('x',x);
  label.setAttribute('y',3303);
  label.setAttribute('text-anchor','middle');
  label.setAttribute('font-size','63');
  
  
  label.textContent=xTickLabels[i];
  axisLayer.appendChild(label);
});
</script>
</body>
</html>
